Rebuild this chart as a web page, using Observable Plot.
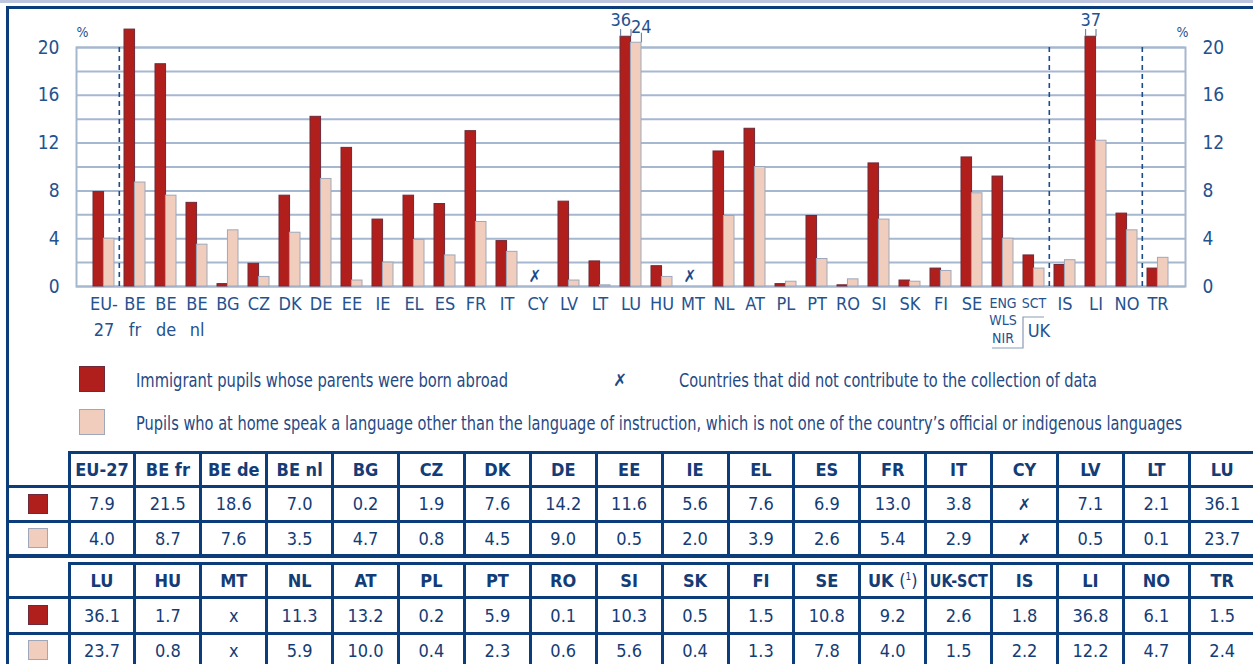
<!DOCTYPE html>
<html><head><meta charset="utf-8">
<script src="https://cdn.jsdelivr.net/npm/d3@7"></script>
<script src="https://cdn.jsdelivr.net/npm/@observablehq/plot@0.6"></script>
<style>
body{margin:0;background:#fff;}
#page{position:relative;width:1253px;height:664px;overflow:hidden;font-family:"Liberation Sans Narrow","DejaVu Sans Condensed","Arial Narrow",sans-serif;color:#1f4a85;}
.abs{position:absolute;}
.band{left:0;top:0;width:1253px;height:3px;background:#bcc4de;}
.topline{left:6px;top:6px;width:1247px;height:3px;background:#0b3d7a;}
.leftline{left:6px;top:6px;width:3px;height:660px;background:#0b3d7a;}
#chart{left:0;top:0;}
.sw{width:26px;height:26px;box-sizing:border-box;}
.lg{font-size:19px;line-height:1;white-space:nowrap;transform-origin:0 50%;}
.hl{background:#0b3d7a;height:3px;}
.vl{background:#0b3d7a;width:3px;}
.cell{display:flex;align-items:center;justify-content:center;font-size:18px;color:#143c76;white-space:nowrap;}
.cell span.t{display:inline-block;}
.hd{font-weight:bold;}
.tsw{width:20px;height:20px;box-sizing:border-box;}
</style></head>
<body><div id="page">
<div class="abs band"></div>
<div class="abs topline"></div>
<div class="abs leftline"></div>
<div id="chart" class="abs"></div>
</div>
<script>
// ---------- data ----------
const codes = ["EU-27","BE fr","BE de","BE nl","BG","CZ","DK","DE","EE","IE","EL","ES","FR","IT","CY","LV","LT","LU","HU","MT","NL","AT","PL","PT","RO","SI","SK","FI","SE","UK (1)","UK-SCT","IS","LI","NO","TR"];
const axisLabels = ["EU-\n27","BE\nfr","BE\nde","BE\nnl","BG","CZ","DK","DE","EE","IE","EL","ES","FR","IT","CY","LV","LT","LU","HU","MT","NL","AT","PL","PT","RO","SI","SK","FI","SE","ENG\nWLS\nNIR","SCT","IS","LI","NO","TR"];
const immigrant = [7.9,21.5,18.6,7.0,0.2,1.9,7.6,14.2,11.6,5.6,7.6,6.9,13.0,3.8,null,7.1,2.1,36.1,1.7,null,11.3,13.2,0.2,5.9,0.1,10.3,0.5,1.5,10.8,9.2,2.6,1.8,36.8,6.1,1.5];
const otherLang = [4.0,8.7,7.6,3.5,4.7,0.8,4.5,9.0,0.5,2.0,3.9,2.6,5.4,2.9,null,0.5,0.1,23.7,0.8,null,5.9,10.0,0.4,2.3,0.6,5.6,0.4,1.3,7.8,4.0,1.5,2.2,12.2,4.7,2.4];
const yTicks = [0,4,8,12,16,20];
const gridValues = [0,2,4,6,8,10,12,14,16,18,20];
const separatorsBefore = ["BE fr","IS","TR"];
const smallLabels = ["UK (1)","UK-SCT"];
const breakTop = {immigrant: 20.9, otherLang: 20.4};  // where the broken (off-scale) bars are cut
const table1Cols = ["EU-27","BE fr","BE de","BE nl","BG","CZ","DK","DE","EE","IE","EL","ES","FR","IT","CY","LV","LT","LU"];
const table2Cols = ["LU","HU","MT","NL","AT","PL","PT","RO","SI","SK","FI","SE","UK (1)","UK-SCT","IS","LI","NO","TR"];
const legendText = ["Immigrant pupils whose parents were born abroad",
  "Pupils who at home speak a language other than the language of instruction, which is not one of the country\u2019s official or indigenous languages",
  "Countries that did not contribute to the collection of data"];

// ---------- styles ----------
const RED = "#b01f1b", PINK = "#f0cdbc", RED_ST = "#6e2a38", PINK_ST = "#9ea8ba";
const GRID = "#a6b7d0", TXT = "#24528f", DASH = "#1d4c8a";
const FONT = '"Liberation Sans Narrow","DejaVu Sans Condensed","Arial Narrow",sans-serif';

const W = 1253, H = 356, mL = 76, mR = 68, mT = 47, mB = 70;
const pad = 0.335;
const n = codes.length;
const step = (W - mL - mR) / (n - pad + 2 * pad);
const half = step * (1 - pad) / 2;

const rows = codes.map((c, i) => ({code: c, label: axisLabels[i], a: immigrant[i], b: otherLang[i]}));
const shownA = d => d.a > 22 ? breakTop.immigrant : d.a;
const shownB = d => d.b > 22 ? breakTop.otherLang : d.b;
const hasData = rows.filter(d => d.a != null);
const brokenA = rows.filter(d => d.a != null && d.a > 22);
const brokenAPair = brokenA.filter(d => d.b > 22);
const brokenASingle = brokenA.filter(d => !(d.b > 22));
const brokenB = rows.filter(d => d.b != null && d.b > 22);
const missing = rows.filter(d => d.a == null);

const ukBracket = (index, scales) => {
  const x = scales.x;
  const xE = x("UK (1)"), xS = x("UK-SCT"), bwid = x.bandwidth();
  const y0 = scales.y(0);
  const g = d3.create("svg:g");
  g.append("path")
    .attr("d", `M${xE},${y0 + 62}H${xS}V${y0 + 31}H${xS + bwid}`)
    .attr("fill", "none").attr("stroke", "#8a9bb6").attr("stroke-width", 1.2);
  return g.node();
};

const chart = Plot.plot({
  width: W, height: H,
  marginLeft: mL, marginRight: mR, marginTop: mT, marginBottom: mB,
  style: {fontFamily: FONT, background: "transparent", overflow: "visible"},
  x: {domain: codes, padding: pad, axis: null},
  y: {domain: [0, 20], axis: null},
  marks: [
    Plot.ruleY(gridValues, {stroke: GRID, strokeWidth: 2}),
    Plot.frame({stroke: GRID, strokeWidth: 2}),
    Plot.ruleX(separatorsBefore, {x: d => d, dx: -step / 2, y1: 0, y2: 20, stroke: DASH, strokeWidth: 1.6, strokeDasharray: "5,4"}),
    Plot.barY(hasData, {x: "code", y: shownA, fill: RED, stroke: RED_ST, strokeWidth: 1, insetRight: half}),
    Plot.barY(hasData, {x: "code", y: shownB, fill: PINK, stroke: PINK_ST, strokeWidth: 1, insetLeft: half}),
    Plot.ruleX(brokenA, {x: "code", dx: -half, y1: shownA, y2: d => shownA(d) + 0.6, stroke: "#6f86a8", strokeWidth: 1.2}),
    Plot.ruleX(brokenA, {x: "code", dx: 0, y1: shownA, y2: d => shownA(d) + 0.6, stroke: "#6f86a8", strokeWidth: 1.2}),
    Plot.ruleX(brokenB, {x: "code", dx: half, y1: shownB, y2: d => shownB(d) + 0.8, stroke: "#6f86a8", strokeWidth: 1.2}),
    Plot.text(brokenAPair, {x: "code", y: shownA, text: d => String(Math.round(d.a)), dx: -half / 2 - 5, dy: -17, fontSize: 18, fill: TXT}),
    Plot.text(brokenASingle, {x: "code", y: shownA, text: d => String(Math.round(d.a)), dx: -half / 2, dy: -17, fontSize: 18, fill: TXT}),
    Plot.text(brokenB, {x: "code", y: shownB, text: d => String(Math.round(d.b)), dx: half / 2 + 5, dy: -15, fontSize: 18, fill: TXT}),
    Plot.text(missing, {x: "code", y: 0, text: () => "\u2717", dx: -3, dy: -10, fontSize: 17, fontWeight: "bold", fill: "#1b4a8a"}),
    Plot.text(rows.filter(d => !smallLabels.includes(d.code)), {x: "code", text: "label", frameAnchor: "bottom", textAnchor: "middle", lineAnchor: "top", dy: 6, fontSize: 18, lineHeight: 1.4, fill: TXT}),
    Plot.text(rows.filter(d => smallLabels.includes(d.code)), {x: "code", text: "label", frameAnchor: "bottom", textAnchor: "middle", lineAnchor: "top", dy: 9, fontSize: 14, lineHeight: 1.25, fill: TXT}),
    Plot.text(["UK"], {x: () => "UK-SCT", frameAnchor: "bottom", textAnchor: "middle", lineAnchor: "middle", dy: 45, dx: 5, fontSize: 18, fill: TXT}),
    ukBracket,
    Plot.axisY({anchor: "left", ticks: yTicks, tickSize: 0, tickPadding: 17, fontSize: 19, fill: TXT, label: null}),
    Plot.axisY({anchor: "right", ticks: yTicks, tickSize: 0, tickPadding: 17, fontSize: 19, fill: TXT, label: null}),
    Plot.text(["%"], {frameAnchor: "top-left", textAnchor: "middle", lineAnchor: "middle", dx: 6, dy: -15, fontSize: 14, fill: TXT}),
    Plot.text(["%"], {frameAnchor: "top-right", textAnchor: "middle", lineAnchor: "middle", dx: -3, dy: -15, fontSize: 14, fill: TXT})
  ]
});
document.getElementById("chart").appendChild(chart);

// ---------- legend (HTML) ----------
const page = document.getElementById("page");
function add(cls, css, html) {
  const el = document.createElement("div");
  el.className = "abs " + cls;
  Object.assign(el.style, css);
  if (html != null) el.innerHTML = html;
  page.appendChild(el);
  return el;
}
function fitWidth(el, target) {
  const w = el.getBoundingClientRect().width;
  const s = w > 0 ? target / w : 1;
  el.style.transform = `translateY(-50%) scaleX(${s})`;
}
add("sw", {left: "79px", top: "366px", background: RED, border: "1px solid " + RED_ST});
add("sw", {left: "79px", top: "409px", background: PINK, border: "1px solid " + PINK_ST});
fitWidth(add("lg", {left: "136px", top: "380px"}, legendText[0]), 372);
fitWidth(add("lg", {left: "136px", top: "423px"}, legendText[1]), 1046);
add("lg", {left: "613px", top: "380px", transform: "translateY(-50%)", fontWeight: "bold", fontFamily: "DejaVu Sans", fontSize: "17px", color: "#1b4a8a"}, "\u2717");
fitWidth(add("lg", {left: "679px", top: "380px"}, legendText[2]), 418);

// ---------- tables ----------
const colW = 65.9, col0 = 69, leftX = 7;
const byCode = Object.fromEntries(rows.map(d => [d.code, d]));
const headerHTML = c => c === "UK (1)" ? 'UK <span style="font-weight:normal">(<sup style="font-size:10px">1</sup>)</span>' : c;
function valueHTML(code, v) {
  if (v == null) return code === "CY"
    ? '<span style="font-family:DejaVu Sans;font-weight:bold;font-size:16px">\u2717</span>'
    : "x";
  return v.toFixed(1);
}
function addCell(cls, x, y, w, h, html) {
  const el = add(cls, {left: x + "px", top: y + "px", width: w + "px", height: h + "px"}, '<span class="t">' + html + '</span>');
  const t = el.firstChild;
  const tw = t.getBoundingClientRect().width;
  if (tw > w - 8) t.style.transform = `scaleX(${(w - 8) / tw})`;
}
function drawTable(cols, top, rowH, thickBottom) {
  const ys = [top, top + rowH[0], top + rowH[0] + rowH[1], top + rowH[0] + rowH[1] + rowH[2]];
  const right = col0 + cols.length * colW;
  add("hl", {left: col0 - 1.5 + "px", top: ys[0] - 1.5 + "px", width: right - col0 + 3 + "px"});
  for (let k = 1; k < 4; k++) {
    add("hl", {left: leftX - 1 + "px", top: ys[k] - 1.5 + "px", width: right - leftX + 3 + "px", height: (k === 3 && thickBottom ? 4 : 3) + "px"});
  }
  for (let j = 0; j <= cols.length; j++) {
    const x = col0 + j * colW;
    add("vl", {left: x - 1.5 + "px", top: ys[0] - 1.5 + "px", height: ys[3] - ys[0] + 3 + "px"});
  }
  add("tsw", {left: "28px", top: (ys[1] + ys[2]) / 2 - 10 + "px", background: RED, border: "1px solid " + RED_ST});
  add("tsw", {left: "28px", top: (ys[2] + ys[3]) / 2 - 10 + "px", background: PINK, border: "1px solid " + PINK_ST});
  cols.forEach((c, j) => {
    const x = col0 + j * colW;
    const d = byCode[c];
    addCell("cell hd", x, ys[0], colW, rowH[0], headerHTML(c));
    addCell("cell", x, ys[1], colW, rowH[1], valueHTML(c, d.a));
    addCell("cell", x, ys[2], colW, rowH[2], valueHTML(c, d.b));
  });
}
drawTable(table1Cols, 452, [34, 35, 34], true);
drawTable(table2Cols, 563, [34, 36, 34], false);
</script>
</body></html>
